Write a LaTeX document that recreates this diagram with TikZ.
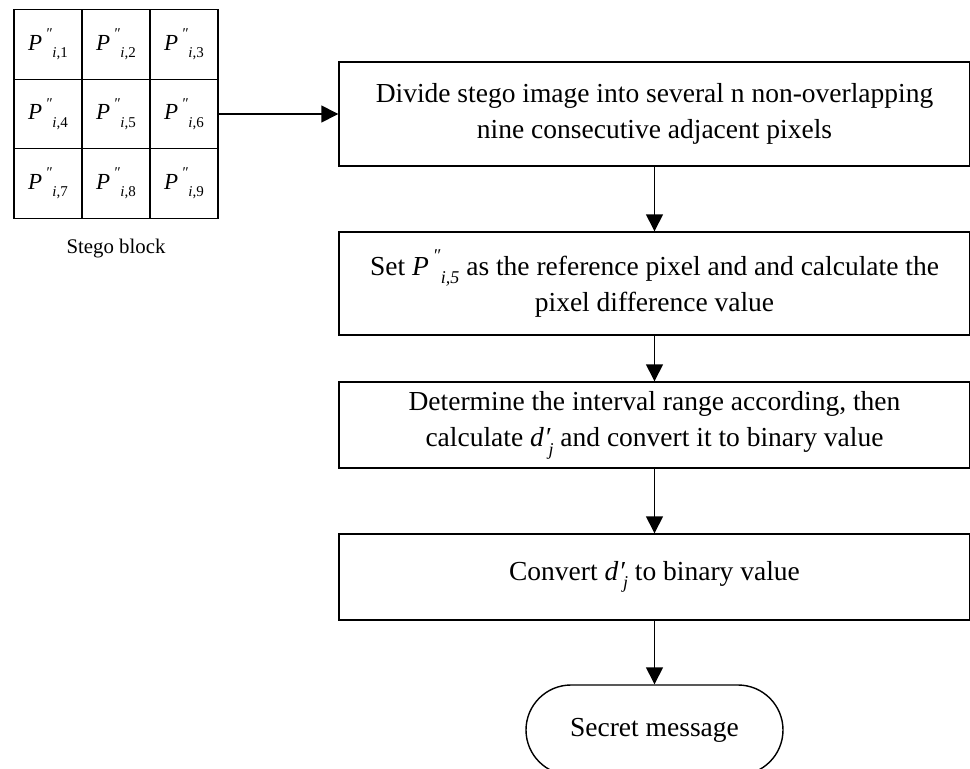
\documentclass[tikz,border=0pt]{standalone}
\usepackage{fontspec}
\setmainfont{Liberation Serif}
\usetikzlibrary{arrows.meta,shapes.misc}
\newcommand{\dpr}{\symbol{"2033}}
\newcommand{\spr}{\symbol{"2032}}
\newcommand{\subsz}[1]{\fontsize{#1}{#1}\selectfont}
% #1 sub size, #2 index text
\newcommand{\pg}[2]{\textit{P}\kern0.14em\raisebox{0.5em}{\subsz{#1}\textit{\dpr}}\kern0.02em\raisebox{-0.32em}{\subsz{#1}#2}}
\newcommand{\dprj}{\textit{d}\kern0.02em\textit{\spr}\kern-0.08em\raisebox{-0.3em}{\subsz{18}\textit{j}}}
\begin{document}
\begin{tikzpicture}[x=1pt,y=-1pt,
  line width=1.4pt,
  cell/.style={draw, minimum width=68pt, minimum height=69.5pt, inner sep=0pt, font=\fontsize{23}{26}\selectfont},
  procbox/.style={draw, minimum width=631pt, align=center, inner sep=0pt, font=\fontsize{27.5}{36.5}\selectfont},
  termbox/.style={draw, rounded rectangle, minimum width=257pt, minimum height=90pt, inner sep=0pt, font=\fontsize{27.5}{30}\selectfont},
  arr/.style={-{Triangle[length=17pt,width=17pt]}}]
\useasboundingbox (0,0) rectangle (970,769);
% grid
\node[cell] (c1) at (48,44.5) {\pg{15}{\textit{i},1}};
\node[cell] (c2) at (116,44.5) {\pg{15}{\textit{i},2}};
\node[cell] (c3) at (184,44.5) {\pg{15}{\textit{i},3}};
\node[cell] (c4) at (48,114) {\pg{15}{\textit{i},4}};
\node[cell] (c5) at (116,114) {\pg{15}{\textit{i},5}};
\node[cell] (c6) at (184,114) {\pg{15}{\textit{i},6}};
\node[cell] (c7) at (48,183.5) {\pg{15}{\textit{i},7}};
\node[cell] (c8) at (116,183.5) {\pg{15}{\textit{i},8}};
\node[cell] (c9) at (184,183.5) {\pg{15}{\textit{i},9}};
\node[font=\fontsize{20.8}{24}\selectfont] (lbl) at (116,249) {Stego block};
% process boxes
\node[procbox, minimum height=104pt] (b1) at (654.5,114) {Divide stego image into several n non-overlapping\\nine consecutive adjacent pixels};
\node[procbox, minimum height=103pt] (b2) at (654.5,283.5) {Set \pg{18}{\textit{i,5}} as the reference pixel and and calculate the\\pixel difference value};
\node[procbox, minimum height=86pt] (b3) at (654.5,425) {Determine the interval range according, then\\calculate \dprj\ and convert it to binary value};
\node[procbox, minimum height=86pt] (b4) at (654.5,577) {Convert \dprj\ to binary value};
\node[termbox] (t) at (654.5,730) {Secret message};
% connectors
\draw[arr] (c6.east) -- (b1.west);
\draw[arr] (b1) -- (b2);
\draw[arr] (b2) -- (b3);
\draw[arr] (b3) -- (b4);
\draw[arr] (b4) -- (t);
\end{tikzpicture}
\end{document}
